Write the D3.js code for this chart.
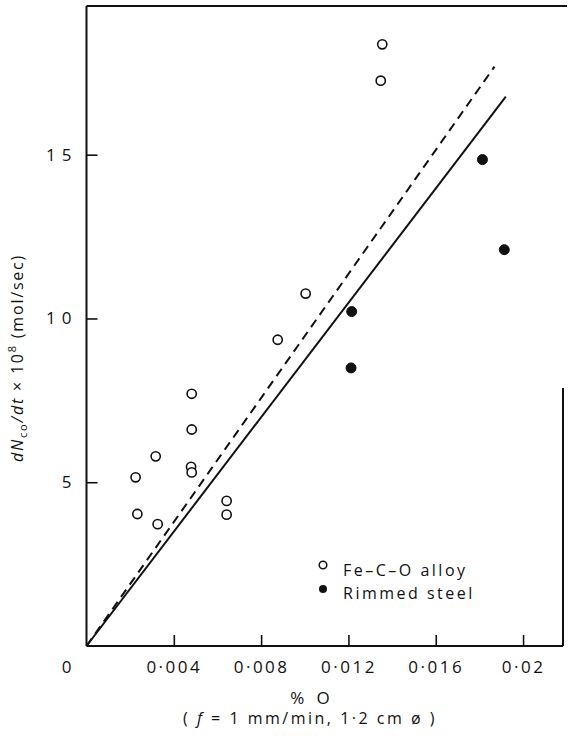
<!DOCTYPE html>
<html>
<head>
<meta charset="utf-8">
<script src="https://cdn.jsdelivr.net/npm/d3@7/dist/d3.min.js"></script>
<style>
html,body{margin:0;padding:0;background:#fff;}
svg{display:block;}
text{font-family:"Open Sans","DejaVu Sans",sans-serif;fill:#111;}
</style>
</head>
<body>
<svg id="chart" width="568" height="736"></svg>
<script>
// ---- data ----
const feCOx = [0.00482,0.00482,0.00317,0.00479,0.00482,0.00225,0.00233,0.00326,0.00642,0.00642,0.01355,0.01348,0.01004,0.00876];
const feCOy = [7.70,6.61,5.79,5.47,5.30,5.15,4.03,3.72,4.43,4.01,18.37,17.26,10.76,9.35];
const rimmedX = [0.01814,0.01914,0.01215,0.01212];
const rimmedY = [14.85,12.10,10.21,8.49];
const solidLineX = [0, 0.01921];
const solidLineY = [0, 16.77];
const dashedLineX = [0, 0.01869];
const dashedLineY = [0, 17.69];
const xTickValues = [0.004,0.008,0.012,0.016,0.02];
const xTickLabels = ["0·004","0·008","0·012","0·016","0·02"];
const yTickValues = [5,10,15];
const yTickLabels = ["5","10","15"];
const legendLabels = ["Fe–C–O alloy","Rimmed steel"];

const svg = d3.select("#chart");
const x = d3.scaleLinear().domain([0,0.02183]).range([86.5,563]);
const y = d3.scaleLinear().domain([0,19.54]).range([646,6]);

const ink = "#111";

// axes with inward ticks
const xAxis = d3.axisBottom(x).tickValues(xTickValues)
  .tickFormat((d,i)=>xTickLabels[i]).tickSizeInner(-11).tickSizeOuter(0).tickPadding(15);
const gx = svg.append("g").attr("transform",`translate(0,${y(0)})`).call(xAxis);
gx.select(".domain").remove();
gx.selectAll(".tick line").attr("stroke",ink).attr("stroke-width",1.6);
gx.selectAll(".tick text").attr("font-size",17).attr("letter-spacing","2.5px").attr("fill",ink);

const yAxis = d3.axisLeft(y).tickValues(yTickValues)
  .tickFormat((d,i)=>yTickLabels[i]).tickSizeInner(-11).tickSizeOuter(0).tickPadding(9);
const gy = svg.append("g").attr("transform",`translate(${x(0)},0)`).call(yAxis);
gy.select(".domain").remove();
gy.selectAll(".tick line").attr("stroke",ink).attr("stroke-width",1.6);
gy.selectAll(".tick text").attr("font-size",17).attr("letter-spacing","6px").attr("fill",ink);

// frame
const frame = svg.append("g").attr("stroke",ink).attr("stroke-width",2).attr("fill","none");
frame.append("line").attr("x1",x(0)).attr("x2",x(0)).attr("y1",y.range()[1]).attr("y2",y(0));
frame.append("line").attr("x1",x(0)).attr("x2",x.range()[1]).attr("y1",y(0)).attr("y2",y(0));
frame.append("line").attr("x1",x(0)).attr("x2",567).attr("y1",y.range()[1]).attr("y2",y.range()[1]);
frame.append("line").attr("x1",x.range()[1]).attr("x2",x.range()[1]).attr("y1",388).attr("y2",y(0));

// origin label
svg.append("text").attr("x",x(0)-20).attr("y",y(0)+27).attr("text-anchor","middle")
  .attr("font-size",17).text("0");

// fitted lines
const line = d3.line().x(d=>x(d[0])).y(d=>y(d[1]));
svg.append("path").datum(solidLineX.map((v,i)=>[v,solidLineY[i]]))
  .attr("d",line).attr("stroke",ink).attr("stroke-width",2).attr("fill","none");
svg.append("path").datum(dashedLineX.map((v,i)=>[v,dashedLineY[i]]))
  .attr("d",line).attr("stroke",ink).attr("stroke-width",2).attr("fill","none")
  .attr("stroke-dasharray","9,6");

// points
svg.append("g").selectAll("circle").data(feCOx.map((v,i)=>[v,feCOy[i]])).join("circle")
  .attr("cx",d=>x(d[0])).attr("cy",d=>y(d[1])).attr("r",4.6)
  .attr("fill","#fff").attr("stroke",ink).attr("stroke-width",1.6);
svg.append("g").selectAll("circle").data(rimmedX.map((v,i)=>[v,rimmedY[i]])).join("circle")
  .attr("cx",d=>x(d[0])).attr("cy",d=>y(d[1])).attr("r",5)
  .attr("fill",ink).attr("stroke",ink).attr("stroke-width",1);

// legend
const lg = svg.append("g");
lg.append("circle").attr("cx",323).attr("cy",565).attr("r",3.8).attr("fill","#fff").attr("stroke",ink).attr("stroke-width",1.5);
lg.append("circle").attr("cx",323).attr("cy",589).attr("r",4).attr("fill",ink);
lg.selectAll("text").data(legendLabels).join("text")
  .attr("x",343).attr("y",(d,i)=>576+i*23).attr("font-size",16).attr("letter-spacing","2.5px").text(d=>d);

// x axis titles
svg.append("text").attr("x",312).attr("y",704).attr("text-anchor","middle")
  .attr("font-size",17).attr("letter-spacing","4px").text("% O");
const sub = svg.append("text").attr("x",310).attr("y",724).attr("text-anchor","middle")
  .attr("font-size",16).attr("letter-spacing","2.5px");
sub.append("tspan").text("( ");
sub.append("tspan").attr("font-style","italic").text("f");
sub.append("tspan").text(" = 1 mm/min,  1·2 cm ø )");

// y axis title
const yt = svg.append("text").attr("transform","translate(23,358) rotate(-90)")
  .attr("text-anchor","middle").attr("font-size",16).attr("letter-spacing","1.8px");
yt.append("tspan").attr("font-style","italic").text("dN");
yt.append("tspan").attr("font-size",11).attr("dy",4).text("co");
yt.append("tspan").attr("dy",-4).attr("font-style","italic").text("/dt");
yt.append("tspan").text(" × 10");
yt.append("tspan").attr("font-size",11).attr("dy",-7).text("8");
yt.append("tspan").attr("dy",7).text("  (mol/sec)");
</script>
</body>
</html>
